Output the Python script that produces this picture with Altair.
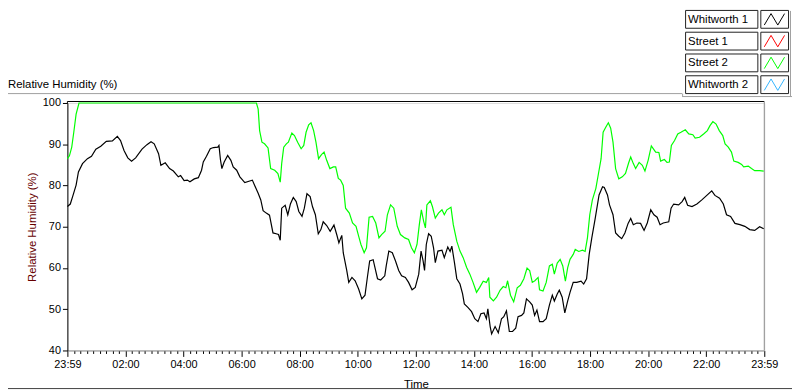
import altair as alt
import pandas as pd

# ---------------- data ----------------
black_t = [0.00,0.10,0.18,0.30,0.38,0.52,0.69,0.83,0.98,1.15,
           1.34,1.55,1.72,1.83,1.95,2.08,2.21,2.35,2.57,2.74,
           2.88,2.99,3.14,3.22,3.37,3.52,3.65,3.82,3.90,4.02,
           4.13,4.22,4.37,4.51,4.62,4.68,4.79,4.92,5.03,5.18,
           5.22,5.27,5.32,5.40,5.52,5.63,5.71,5.83,5.94,6.11,
           6.28,6.37,6.45,6.57,6.66,6.74,6.85,6.96,7.08,7.19,
           7.27,7.33,7.38,7.50,7.59,7.68,7.78,7.88,7.97,8.08,
           8.16,8.25,8.36,8.44,8.54,8.64,8.73,8.81,8.93,9.05,
           9.18,9.28,9.35,9.45,9.50,9.62,9.69,9.80,9.91,10.03,
           10.14,10.25,10.33,10.41,10.53,10.68,10.79,10.93,10.98,11.07,
           11.19,11.30,11.41,11.51,11.64,11.75,11.87,11.98,12.10,12.18,
           12.25,12.30,12.36,12.44,12.53,12.61,12.67,12.76,12.90,12.98,
           13.10,13.18,13.24,13.33,13.41,13.52,13.61,13.67,13.80,13.92,
           14.03,14.14,14.24,14.35,14.43,14.48,14.56,14.61,14.73,14.84,
           14.95,15.03,15.12,15.22,15.33,15.44,15.52,15.64,15.72,15.81,
           15.92,16.01,16.09,16.17,16.26,16.38,16.49,16.60,16.70,16.77,
           16.87,16.94,17.04,17.13,17.23,17.31,17.42,17.54,17.69,17.78,
           17.88,17.97,18.06,18.17,18.31,18.43,18.49,18.60,18.67,18.79,
           18.88,18.99,19.09,19.20,19.31,19.40,19.49,19.61,19.74,19.86,
           19.97,20.09,20.20,20.31,20.41,20.52,20.71,20.79,20.88,21.05,
           21.17,21.26,21.36,21.51,21.68,21.85,22.02,22.19,22.30,22.46,
           22.59,22.70,22.84,22.99,23.16,23.33,23.50,23.67,23.84,23.98]
black_v = [74.9,75.5,77.3,80.1,83.3,85.3,86.5,87.1,88.8,89.5,
           90.7,90.8,91.9,90.9,88.5,86.7,85.9,86.7,88.8,89.9,
           90.6,90.1,87.7,84.9,85.5,84.1,83.5,82.1,82.4,81.2,
           81.3,80.9,81.6,81.9,83.7,85.7,87.1,88.9,89.2,89.3,
           89.7,86.3,84.1,85.7,87.3,86.1,84.5,83.7,82.1,80.7,
           81.1,81.3,80.0,78.1,76.5,73.9,73.3,72.8,68.5,68.3,
           68.1,66.7,74.5,75.2,72.9,75.5,77.1,76.1,73.7,72.5,
           74.5,78.0,77.3,74.9,72.9,68.3,69.3,71.2,70.3,68.9,
           70.4,68.0,66.1,67.9,63.7,59.4,56.5,57.7,56.9,54.9,
           52.5,53.4,57.7,61.7,62.0,57.4,57.1,58.1,60.5,64.1,
           63.7,61.7,59.4,58.1,57.7,56.5,54.7,55.3,58.5,64.1,
           61.7,59.4,65.7,68.3,67.7,64.9,61.3,64.1,64.3,62.5,
           65.1,64.0,65.3,61.3,57.4,56.1,53.7,51.3,50.4,49.4,
           47.7,47.0,48.9,49.1,47.7,50.1,45.8,44.0,45.8,44.3,
           47.7,48.2,49.6,44.6,44.6,45.4,48.2,48.5,49.1,52.5,
           51.8,51.0,48.5,49.8,47.0,47.0,47.7,51.0,53.4,52.0,
           53.7,54.6,52.9,49.1,52.0,54.1,56.5,56.5,56.8,56.1,
           57.4,63.3,67.3,71.7,77.7,79.7,79.5,77.7,75.3,72.9,
           68.5,67.7,67.1,68.5,70.8,72.0,70.5,70.9,70.8,69.1,
           70.9,74.1,72.9,72.3,70.5,70.9,71.2,74.5,75.5,75.3,
           76.1,77.1,75.2,74.9,75.5,76.5,77.6,78.7,77.6,76.9,
           75.5,72.9,72.5,70.8,70.5,70.1,69.3,69.1,70.0,69.5]

green_t = [0.00,0.07,0.15,0.22,0.30,0.40,6.51,6.57,6.62,6.70,
           6.79,6.91,7.00,7.14,7.25,7.33,7.38,7.45,7.54,7.61,
           7.73,7.82,7.93,8.05,8.14,8.22,8.31,8.39,8.48,8.56,
           8.65,8.75,8.84,8.93,9.04,9.16,9.24,9.33,9.41,9.50,
           9.58,9.71,9.82,9.94,10.03,10.11,10.22,10.30,10.39,10.51,
           10.62,10.73,10.82,10.94,11.02,11.13,11.24,11.36,11.47,11.62,
           11.75,11.85,11.95,12.04,12.12,12.19,12.27,12.33,12.38,12.50,
           12.57,12.67,12.78,12.90,12.98,13.07,13.21,13.29,13.41,13.52,
           13.63,13.75,13.86,13.97,14.09,14.20,14.32,14.43,14.51,14.55,
           14.67,14.78,14.90,15.01,15.10,15.16,15.26,15.37,15.49,15.60,
           15.72,15.83,15.92,16.01,16.10,16.21,16.26,16.38,16.49,16.60,
           16.70,16.77,16.87,16.97,17.06,17.15,17.23,17.31,17.42,17.49,
           17.61,17.74,17.83,17.91,17.99,18.08,18.20,18.29,18.38,18.45,
           18.54,18.63,18.71,18.79,18.88,18.99,19.11,19.22,19.33,19.40,
           19.49,19.57,19.69,19.80,19.89,20.00,20.11,20.26,20.37,20.43,
           20.56,20.65,20.73,20.80,20.91,21.02,21.13,21.28,21.40,21.54,
           21.62,21.77,21.91,22.04,22.13,22.23,22.34,22.45,22.57,22.65,
           22.76,22.87,22.95,23.10,23.22,23.29,23.45,23.56,23.67,23.84,
           23.98]
green_v = [86.5,87.2,89.3,92.9,97.3,100,100,98.5,93.3,90.5,
           90.1,89.1,84.1,83.7,82.9,80.8,85.3,89.3,90.1,90.5,
           92.7,92.1,90.5,88.9,89.7,92.9,94.7,95.2,93.3,90.5,
           86.5,87.5,88.1,86.1,84.1,84.5,84.5,81.7,81.3,80.0,
           74.5,73.3,70.9,70.1,67.7,65.7,63.7,64.9,72.3,72.5,
           70.9,67.3,68.1,68.9,72.9,75.3,74.5,70.1,68.1,67.3,
           66.9,64.9,63.7,65.7,70.5,74.1,71.3,69.7,75.3,76.3,
           74.9,72.1,73.3,74.1,72.9,74.1,74.7,70.5,66.5,64.1,
           62.5,60.1,58.5,56.5,54.1,55.3,56.8,56.5,57.7,52.9,
           52.0,52.9,54.6,55.5,55.2,56.9,53.4,51.8,55.2,55.8,
           57.4,60.0,59.4,56.5,56.9,57.7,54.7,54.4,56.5,60.5,
           60.9,58.5,61.2,62.1,60.5,56.8,60.1,62.1,63.3,64.5,
           64.0,64.3,64.0,67.3,72.9,76.5,79.3,82.9,86.5,92.9,
           94.1,95.2,93.9,90.5,84.1,81.6,82.1,82.9,85.5,86.9,
           85.3,84.1,85.6,84.9,83.5,86.1,89.6,88.1,88.0,85.9,
           86.3,85.6,85.7,89.7,90.9,92.5,92.9,93.5,92.5,92.3,
           91.5,91.7,92.5,93.3,94.5,95.5,94.9,93.3,92.1,90.1,
           89.3,88.1,85.9,85.6,85.1,84.5,84.7,84.1,83.6,83.6,
           83.5]

series_names = ["Whitworth 1", "Street 2"]
series_colors = ["#000000", "#00ff00"]
legend_names = ["Whitworth 1", "Street 1", "Street 2", "Whitworth 2"]
legend_colors = ["#000000", "#ff0000", "#00ff00", "#33b4ff"]
y_ticks = [40, 50, 60, 70, 80, 90, 100]
x_tick_labels = ["23:59", "02:00", "04:00", "06:00", "08:00", "10:00", "12:00",
                 "14:00", "16:00", "18:00", "20:00", "22:00", "23:59"]

# ---------------- layout ----------------
W, H = 704, 250
FONT = "Liberation Sans"

df = pd.concat([
    pd.DataFrame({"hour": black_t, "rh": black_v, "series": series_names[0]}),
    pd.DataFrame({"hour": green_t, "rh": green_v, "series": series_names[1]}),
], ignore_index=True)

major = "abs(datum.value/2 - round(datum.value/2)) < 0.001"
label_arr = "[" + ",".join("'%s'" % s for s in x_tick_labels) + "]"
label_expr = "%s ? %s[round(datum.value/2)] : ''" % (major, label_arr)
tick_vals = [i * 2 / 9 for i in range(9 * 12 + 1)]

x_enc = alt.X(
    "hour:Q",
    scale=alt.Scale(domain=[0, 24], nice=False, zero=False),
    axis=alt.Axis(
        values=tick_vals, labelExpr=label_expr, labelOverlap=False, labelFlush=False,
        tickSize={"condition": {"test": major, "value": 6}, "value": 3},
        tickColor="#000000", domainColor="#8c8c8c", grid=False,
        labelFont=FONT, labelFontSize=11, labelColor="#000000", labelPadding=2,
        title="Time", titleFont=FONT, titleFontSize=11.5, titleFontWeight="normal",
        titleColor="#000000", titleX=W / 2, titleY=37, titleAlign="center",
        titleBaseline="alphabetic",
    ),
)
y_enc = alt.Y(
    "rh:Q",
    scale=alt.Scale(domain=[40, 100], nice=False, zero=False),
    axis=alt.Axis(
        values=y_ticks, tickSize=5, tickColor="#000000", domainColor="#000000", grid=False,
        labelFont=FONT, labelFontSize=11, labelColor="#000000", labelPadding=2,
        title="Relative Humidity (%)", titleFont=FONT, titleFontSize=11.5,
        titleFontWeight="normal", titleColor="#660000", titleX=-32, titleY=H / 2,
        titleAngle=270, titleAlign="center", titleBaseline="alphabetic",
    ),
)

lines = alt.Chart(df).mark_line(strokeWidth=1.2).encode(
    x=x_enc, y=y_enc,
    color=alt.Color("series:N", scale=alt.Scale(domain=series_names, range=series_colors), legend=None),
)

one = pd.DataFrame({"k": [0]})


def hrule(x1, x2, y, color):
    return alt.Chart(one).mark_rule(color=color, strokeWidth=1).encode(
        x=alt.value(x1), x2=alt.value(x2), y=alt.value(y))


def vrule(x, y1, y2, color):
    return alt.Chart(one).mark_rule(color=color, strokeWidth=1).encode(
        x=alt.value(x), y=alt.value(y1), y2=alt.value(y2))


layers = [hrule(0, W, -1.5, "#000000"),         # top border (just above 100)
          vrule(W, -1.5, H, "#8c8c8c"),         # right border
          vrule(0, -1.5, 0, "#000000"),         # left border continuation
          hrule(-60, 621, -9.5, "#a0a0a0"),     # frame line under title
          vrule(621.5, -9.5, -6.5, "#a0a0a0"),
          hrule(621, 732, -6.5, "#a0a0a0"),     # legend panel bottom
          vrule(730.5, -93, -6.5, "#a0a0a0"),   # legend panel right
          hrule(-60, 732, 288.5, "#404040"),    # frame bottom
          lines,
          ]

title_txt = alt.Chart(pd.DataFrame({"t": ["Relative Humidity (%)"]})).mark_text(
    align="left", baseline="alphabetic", font=FONT, fontSize=11.5, color="#000000"
).encode(text="t:N", x=alt.value(-60), y=alt.value(-15))
layers.append(title_txt)

ZIG = "M-1,0.55L-0.35,-0.55L0.3,0.55L0.95,-0.55"
for i, (name, col) in enumerate(zip(legend_names, legend_colors)):
    top = -93.5 + 22 * i
    d = pd.DataFrame({"name": [name]})
    base = alt.Chart(d)
    layers.append(base.mark_rect(fill="#ffffff", stroke="#202020", strokeWidth=1).encode(
        x=alt.value(624.5), x2=alt.value(697.5), y=alt.value(top), y2=alt.value(top + 18)))
    layers.append(base.mark_rect(fill="#ffffff", stroke="#202020", strokeWidth=1).encode(
        x=alt.value(700.5), x2=alt.value(728.5), y=alt.value(top), y2=alt.value(top + 18)))
    layers.append(base.mark_text(align="left", baseline="middle", font=FONT, fontSize=11.5,
                                 color="#000000").encode(
        text="name:N", x=alt.value(627), y=alt.value(top + 9.5)))
    layers.append(base.mark_point(shape=ZIG, size=441, filled=False, stroke=col,
                                  strokeWidth=1, opacity=1).encode(
        x=alt.value(714.5), y=alt.value(top + 9)))

chart = alt.layer(*layers).properties(
    width=W, height=H,
    padding={"left": 60, "top": 94, "right": 28, "bottom": 40},
    autosize=alt.AutoSizeParams(type="none"),
).configure_view(stroke=None).configure(background="#ffffff")

chart.save("out.html", embed_options={"renderer": "svg", "actions": False})
